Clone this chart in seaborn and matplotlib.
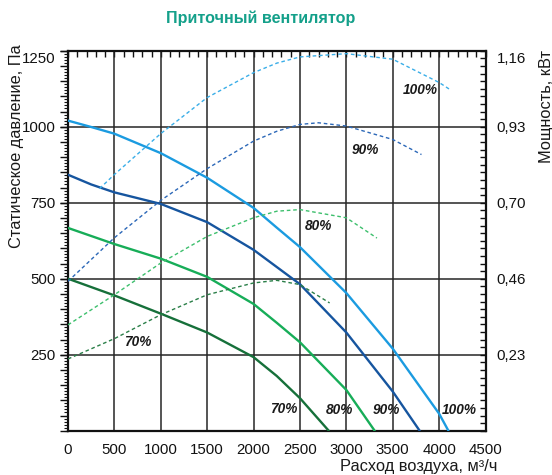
import numpy as np
import pandas as pd
import matplotlib
matplotlib.use("Agg")
import matplotlib.pyplot as plt
from matplotlib.ticker import FixedLocator, FuncFormatter, MultipleLocator
from matplotlib.transforms import ScaledTranslation
import seaborn as sns

# Fan curves: static pressure (Pa) vs air flow (m3/h) per speed setting
flow_100 = [0, 250, 500, 1000, 1500, 2000, 2250, 2500, 3000, 3500, 4000, 4100]
pres_100 = [1020, 999, 977, 913, 832, 733, 668, 604, 453, 270, 56, 0]

flow_90 = [0, 250, 500, 1000, 1500, 2000, 2500, 3000, 3500, 3790]
pres_90 = [842, 810, 784, 746, 686, 595, 482, 323, 129, 0]

flow_80 = [0, 500, 1000, 1500, 2000, 2250, 2500, 3000, 3305]
pres_80 = [667, 614, 566, 506, 417, 355, 291, 134, 0]

flow_70 = [0, 500, 1000, 1500, 2000, 2250, 2500, 2810]
pres_70 = [500, 445, 385, 323, 242, 180, 107, 0]

# Motor power curves (kW) vs air flow
pflow_100 = [340, 500, 1000, 1500, 2000, 2250, 2500, 3000, 3500, 4000, 4130]
power_100 = [0.739, 0.782, 0.907, 1.017, 1.093, 1.122, 1.141, 1.151, 1.134, 1.063, 1.039]

pflow_90 = [0, 500, 1000, 1500, 2000, 2250, 2500, 2700, 3000, 3500, 3810]
power_90 = [0.456, 0.589, 0.703, 0.800, 0.884, 0.914, 0.935, 0.940, 0.930, 0.889, 0.843]

pflow_80 = [0, 500, 1000, 1500, 2000, 2250, 2500, 3000, 3330]
power_80 = [0.323, 0.415, 0.512, 0.593, 0.650, 0.670, 0.675, 0.650, 0.588]

pflow_70 = [0, 500, 1000, 1500, 2000, 2250, 2500, 2820]
power_70 = [0.219, 0.281, 0.354, 0.415, 0.451, 0.459, 0.446, 0.390]

speeds = ["100%", "90%", "80%", "70%"]
pressure_curves = [(flow_100, pres_100), (flow_90, pres_90), (flow_80, pres_80), (flow_70, pres_70)]
power_curves = [(pflow_100, power_100), (pflow_90, power_90), (pflow_80, power_80), (pflow_70, power_70)]

solid_colors = {"100%": "#1b9be0", "90%": "#16559f", "80%": "#17ad58", "70%": "#16703a"}
dash_colors = {"100%": "#3aaee8", "90%": "#2c68b8", "80%": "#3cbf6c", "70%": "#2a7f48"}

# Curve labels: pressure curves near the bottom, power curves near their tops
pressure_label_pos = {"100%": (4215, 67), "90%": (3434, 67), "80%": (2930, 67), "70%": (2325, 70)}
power_label_pos = {"100%": (3800, 1120), "90%": (3207, 923), "80%": (2703, 672), "70%": (748, 293)}

x_ticks = [0, 500, 1000, 1500, 2000, 2500, 3000, 3500, 4000, 4500]
y_ticks = [250, 500, 750, 1000, 1250]
power_max = 1.16
pressure_max = 1250

sns.set_style("white")
plt.rcParams["font.family"] = ["Liberation Sans", "DejaVu Sans"]
plt.rcParams["text.color"] = "#1a1a1a"
plt.rcParams["xtick.color"] = "#111111"
plt.rcParams["ytick.color"] = "#111111"

fig = plt.figure(figsize=(5.52, 4.75), dpi=100)
ax = fig.add_axes([68 / 552, 1 - 430.7 / 475, (485.5 - 68) / 552, (430.7 - 50.7) / 475])
ax2 = ax.twinx()

pressure_df = pd.concat(
    [pd.DataFrame({"flow": f, "value": p, "speed": s}) for s, (f, p) in zip(speeds, pressure_curves)],
    ignore_index=True,
)
power_df = pd.concat(
    [pd.DataFrame({"flow": f, "value": p, "speed": s}) for s, (f, p) in zip(speeds, power_curves)],
    ignore_index=True,
)

for s in speeds:
    sns.lineplot(data=pressure_df[pressure_df.speed == s], x="flow", y="value",
                 ax=ax, color=solid_colors[s], lw=1.7, sort=False, estimator=None,
                 legend=False, zorder=3)
    sns.lineplot(data=power_df[power_df.speed == s], x="flow", y="value",
                 ax=ax2, color=dash_colors[s], lw=1.0, sort=False, estimator=None,
                 legend=False, zorder=3, linestyle=(0, (2.6, 2.0)))

for s in speeds:
    ax.text(*pressure_label_pos[s], s, ha="center", va="center", fontsize=9.8,
            fontweight="bold", fontstyle="italic", color="#1a1a1a", zorder=5)
    ax.text(*power_label_pos[s], s, ha="center", va="center", fontsize=9.8,
            fontweight="bold", fontstyle="italic", color="#1a1a1a", zorder=5)

# Axes limits and grid
ax.set_xlim(0, 4500)
ax.set_ylim(0, pressure_max)
ax2.set_ylim(0, power_max)
ax.set_xlabel("")
ax.set_ylabel("")
ax2.set_ylabel("")

ax.xaxis.set_major_locator(FixedLocator(x_ticks))
ax.xaxis.set_minor_locator(MultipleLocator(100))
ax.yaxis.set_major_locator(FixedLocator(y_ticks))
ax.yaxis.set_minor_locator(MultipleLocator(10))
ax.grid(True, which="major", color="#262626", lw=1.1)
ax.set_axisbelow(True)

for sp in ax.spines.values():
    sp.set_color("#111111")
    sp.set_linewidth(1.6)
for sp in ax2.spines.values():
    sp.set_visible(False)

ax.tick_params(axis="x", which="major", direction="out", length=6, width=1.0,
               labelsize=10.8, pad=3)
ax.tick_params(axis="x", which="minor", direction="out", length=6, width=1.0)
ax.tick_params(axis="y", which="major", direction="out", length=6, width=1.0,
               labelsize=10.8, pad=3)
ax.tick_params(axis="y", which="minor", direction="out", length=3, width=0.8)

# Extra tick sets: every 50 Pa on the left, every 100 m3/h on top
left50 = ax.secondary_yaxis("left")
left50.yaxis.set_major_locator(MultipleLocator(50))
left50.tick_params(axis="y", direction="out", length=6, width=1.0, labelleft=False)
left50.spines["left"].set_visible(False)

top100 = ax.secondary_xaxis("top")
top100.xaxis.set_major_locator(MultipleLocator(100))
top100.tick_params(axis="x", direction="in", length=4, width=1.0, labeltop=False)
top100.spines["top"].set_visible(False)

# Right axis: power in kW
power_ticks = [round(power_max * k / 5, 4) for k in range(1, 6)]
ax2.yaxis.set_major_locator(FixedLocator(power_ticks))
ax2.yaxis.set_minor_locator(FixedLocator([power_max * k / 50 for k in range(51)]))
ax2.yaxis.set_major_formatter(FuncFormatter(lambda v, _: f"{v:.2f}".replace(".", ",")))
ax2.tick_params(axis="y", which="major", direction="in", length=4, width=1.0,
                labelsize=10.8, pad=8)
ax2.tick_params(axis="y", which="minor", direction="in", length=4, width=1.0)

# Top tick labels sit slightly below the frame corner
fig.canvas.draw()
shift = ScaledTranslation(0, -7 / 100, fig.dpi_scale_trans)
for tick in ax.yaxis.get_major_ticks():
    if abs(tick.get_loc() - pressure_max) < 1e-6:
        tick.label1.set_transform(tick.label1.get_transform() + shift)
for tick in ax2.yaxis.get_major_ticks():
    if abs(tick.get_loc() - power_max) < 1e-6:
        tick.label2.set_transform(tick.label2.get_transform() + shift)

# Titles and axis captions
fig.text(261 / 552, 1 - 18.3 / 475, "Приточный вентилятор", ha="center", va="center",
         fontsize=11.6, fontweight="bold", color="#14a08a")
fig.text(17 / 552, 1 - 44 / 475, "Статическое давление, Па", rotation=90,
         ha="center", va="top", fontsize=11.8)
fig.text(546 / 552, 1 - 50 / 475, "Мощность, кВт", rotation=90,
         ha="center", va="top", fontsize=11.8)
fig.text(497 / 552, 1 - 466.7 / 475, "Расход воздуха, м³/ч", ha="right", va="center",
         fontsize=11.8)

fig.savefig("out.png", dpi=100)
